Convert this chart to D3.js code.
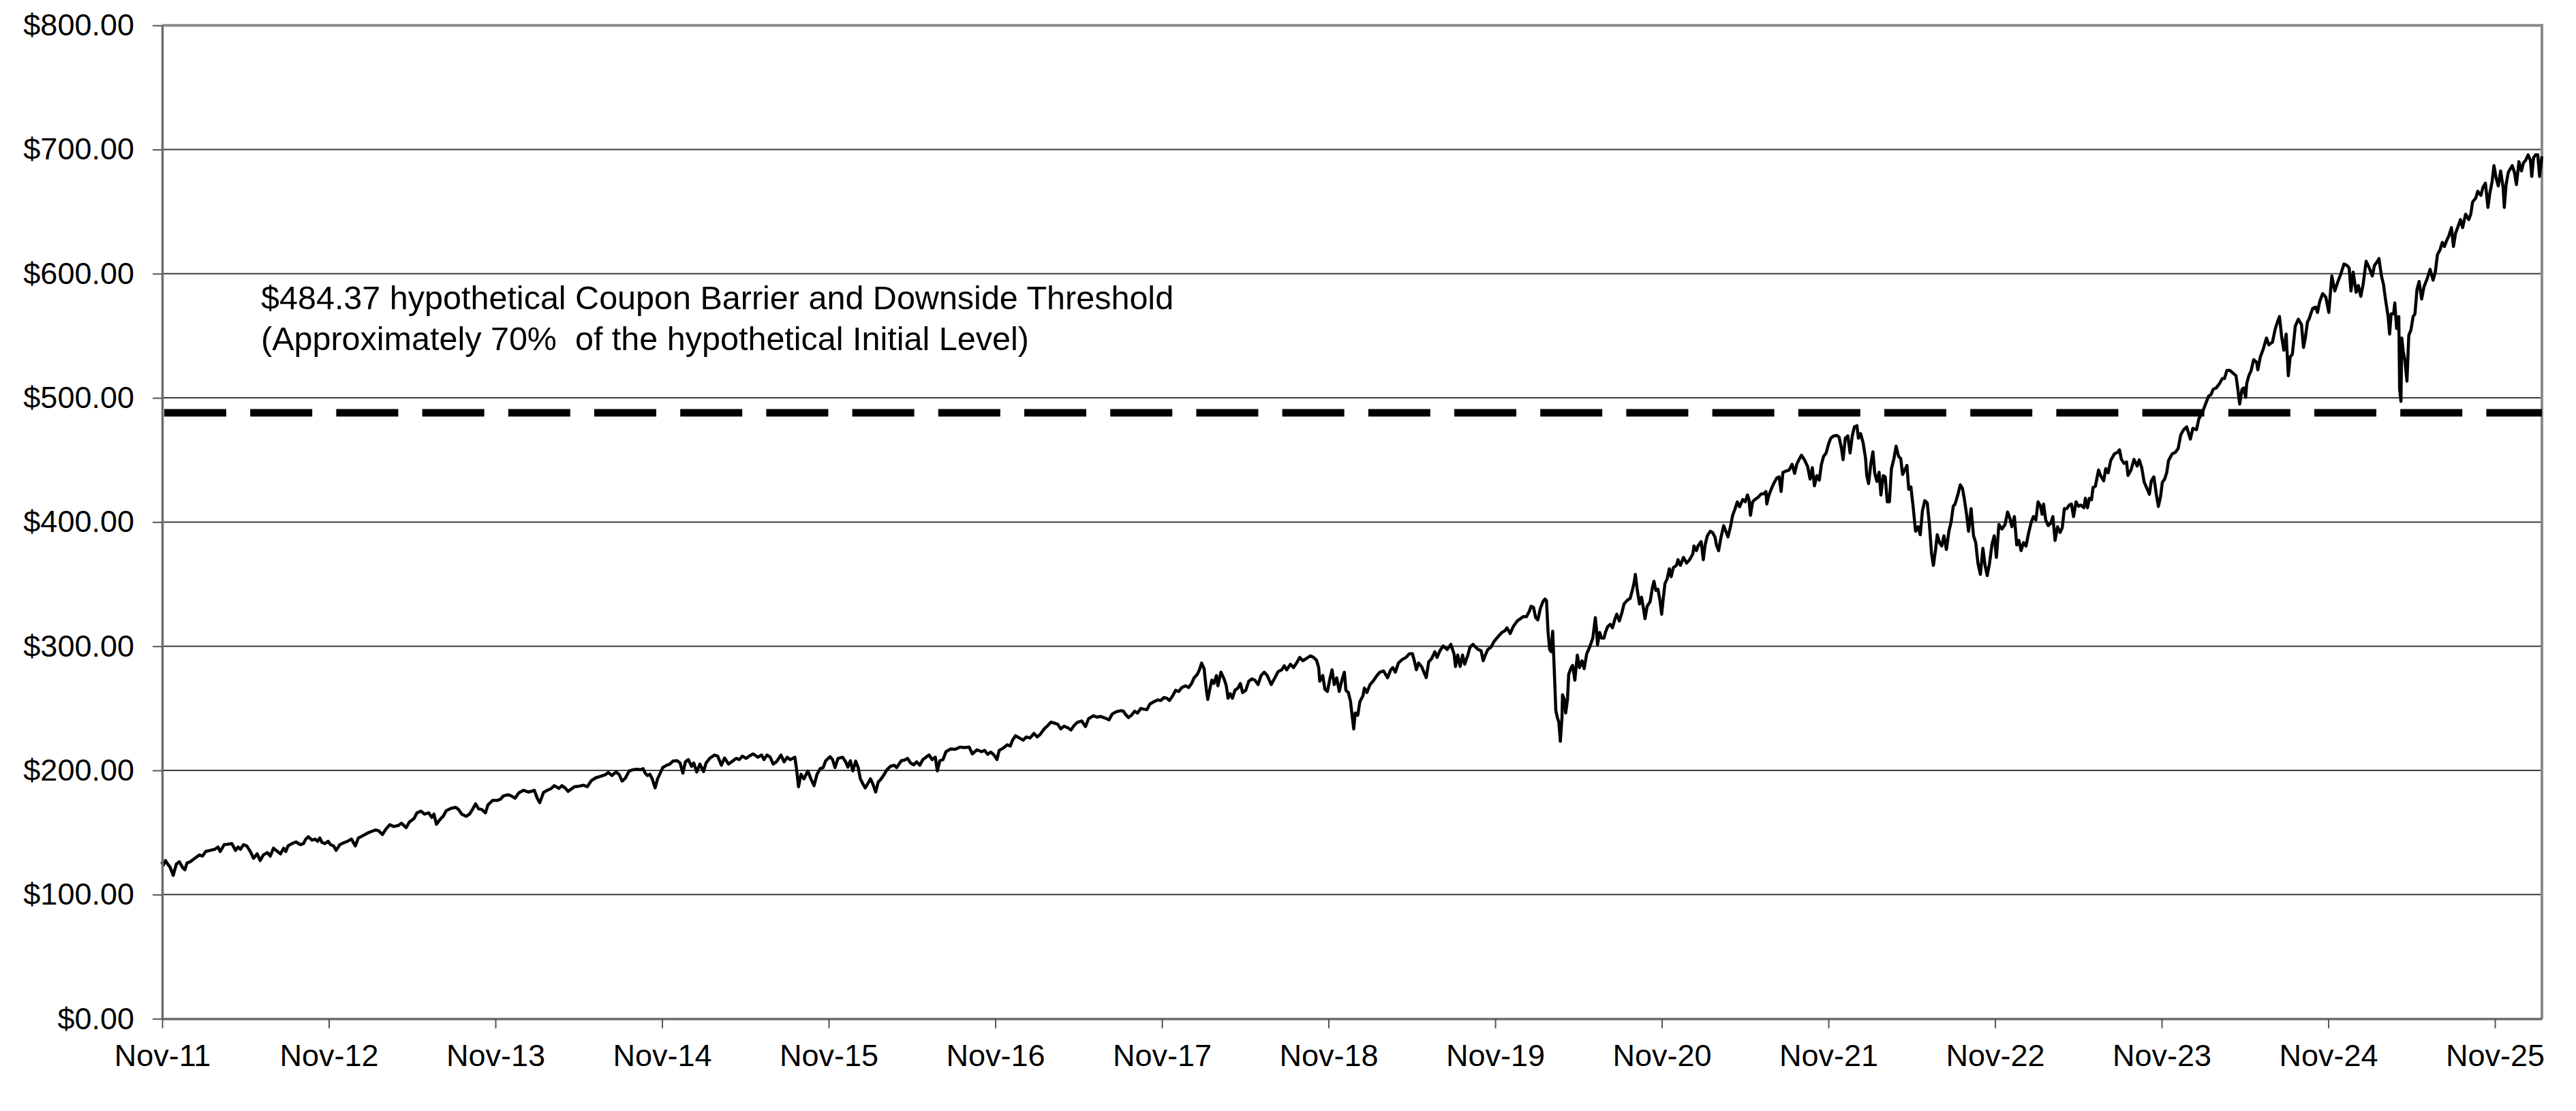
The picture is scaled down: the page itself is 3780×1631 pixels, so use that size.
<!DOCTYPE html>
<html><head><meta charset="utf-8">
<script src="https://cdn.jsdelivr.net/npm/d3@7"></script>
<style>
html,body{margin:0;padding:0;background:#fff;}
svg{display:block;background:#fff;}
text{font-family:"Liberation Sans",Arial,Helvetica,sans-serif;fill:#000;}
</style></head><body>
<svg id="chart" width="3780" height="1631"></svg>
<script>
// ---- data (dates as decimal years, values in $) ----
const dates = [
2011.870,2011.877,2011.890,2011.903,2011.918,2011.936,2011.955,2011.973,2011.992,2012.006,2012.019,2012.038,2012.066,2012.093,2012.112,2012.131,2012.158,2012.186,2012.205,2012.218,
2012.242,2012.260,2012.288,2012.310,2012.325,2012.340,2012.358,2012.377,2012.399,2012.418,2012.440,2012.458,2012.477,2012.501,2012.519,2012.538,2012.562,2012.580,2012.599,2012.612,
2012.625,2012.649,2012.673,2012.699,2012.718,2012.732,2012.747,2012.769,2012.788,2012.803,2012.816,2012.829,2012.847,2012.866,2012.880,2012.899,2012.914,2012.936,2012.964,2012.982,
2013.006,2013.029,2013.047,2013.075,2013.099,2013.121,2013.149,2013.168,2013.192,2013.214,2013.236,2013.260,2013.288,2013.306,2013.334,2013.353,2013.381,2013.399,2013.423,2013.445,
2013.469,2013.488,2013.501,2013.516,2013.538,2013.556,2013.575,2013.603,2013.631,2013.649,2013.668,2013.695,2013.714,2013.732,2013.751,2013.769,2013.788,2013.810,2013.825,2013.853,
2013.881,2013.899,2013.918,2013.945,2013.964,2013.988,2014.010,2014.038,2014.066,2014.084,2014.103,2014.121,2014.136,2014.158,2014.181,2014.205,2014.223,2014.251,2014.269,2014.288,
2014.306,2014.325,2014.343,2014.371,2014.399,2014.421,2014.445,2014.473,2014.495,2014.529,2014.547,2014.569,2014.593,2014.612,2014.630,2014.649,2014.673,2014.695,2014.723,2014.742,
2014.756,2014.769,2014.782,2014.797,2014.811,2014.828,2014.843,2014.856,2014.874,2014.898,2014.917,2014.935,2014.960,2014.978,2014.995,2015.010,2015.028,2015.047,2015.060,2015.078,
2015.097,2015.119,2015.134,2015.158,2015.185,2015.204,2015.226,2015.245,2015.269,2015.293,2015.315,2015.334,2015.352,2015.374,2015.393,2015.417,2015.445,2015.467,2015.482,2015.500,
2015.519,2015.537,2015.556,2015.584,2015.602,2015.621,2015.639,2015.667,2015.676,2015.689,2015.704,2015.722,2015.745,2015.763,2015.782,2015.800,2015.819,2015.837,2015.852,2015.878,
2015.893,2015.908,2015.926,2015.954,2015.972,2015.985,2016.000,2016.015,2016.032,2016.047,2016.060,2016.074,2016.089,2016.102,2016.121,2016.134,2016.152,2016.167,2016.185,2016.204,
2016.219,2016.241,2016.263,2016.278,2016.306,2016.324,2016.343,2016.361,2016.380,2016.398,2016.417,2016.435,2016.454,2016.472,2016.491,2016.510,2016.522,2016.537,2016.556,2016.574,
2016.602,2016.630,2016.658,2016.685,2016.713,2016.732,2016.760,2016.787,2016.806,2016.824,2016.843,2016.862,2016.880,2016.893,2016.917,2016.941,2016.960,2016.973,2016.991,2017.015,
2017.037,2017.056,2017.078,2017.102,2017.121,2017.139,2017.163,2017.185,2017.204,2017.226,2017.245,2017.263,2017.282,2017.306,2017.324,2017.343,2017.361,2017.389,2017.411,2017.430,
2017.460,2017.482,2017.500,2017.528,2017.552,2017.571,2017.593,2017.621,2017.639,
2017.650,2017.669,2017.687,2017.706,2017.724,2017.743,2017.761,2017.780,2017.798,2017.823,2017.845,2017.863,2017.882,2017.900,2017.915,2017.934,2017.952,2017.971,2017.989,2018.011,
2018.030,2018.048,2018.063,2018.082,2018.095,2018.108,2018.123,2018.137,2018.145,2018.156,2018.169,2018.182,2018.197,2018.206,2018.224,2018.243,2018.256,2018.267,2018.280,2018.293,
2018.308,2018.326,2018.341,2018.354,2018.373,2018.391,2018.410,2018.428,2018.447,2018.465,2018.484,2018.502,2018.526,2018.548,2018.567,2018.589,2018.604,2018.619,2018.641,2018.660,
2018.678,2018.697,2018.715,2018.737,2018.761,2018.780,2018.798,2018.811,2018.817,2018.835,2018.848,2018.863,2018.878,2018.891,2018.904,2018.919,2018.934,2018.952,2018.965,2018.974,
2018.989,2019.002,2019.011,2019.021,2019.030,2019.045,2019.058,2019.076,2019.085,2019.100,2019.119,2019.137,2019.160,2019.178,2019.200,2019.224,2019.243,2019.256,2019.271,2019.289,
2019.311,2019.335,2019.354,2019.373,2019.385,2019.397,2019.410,2019.428,2019.456,2019.471,2019.489,2019.508,2019.521,2019.539,2019.558,2019.582,2019.604,2019.623,2019.632,2019.645,
2019.660,2019.674,2019.687,2019.706,2019.719,2019.737,2019.752,2019.767,2019.785,2019.798,2019.811,2019.826,2019.845,2019.863,2019.886,2019.910,2019.928,2019.941,2019.960,2019.978,
2020.002,2020.021,2020.039,2020.058,2020.076,2020.085,2020.100,2020.113,2020.126,2020.141,2020.156,2020.169,2020.178,2020.187,2020.197,2020.206,2020.215,2020.224,2020.234,2020.243,
2020.252,2020.261,2020.271,2020.274,2020.285,2020.293,2020.304,2020.311,2020.326,2020.335,2020.348,2020.363,2020.376,2020.391,2020.404,2020.419,2020.437,2020.456,2020.471,2020.478,
2020.484,2020.497,2020.508,
2020.523,2020.532,2020.545,2020.560,2020.574,2020.587,2020.600,2020.615,2020.630,2020.643,2020.661,2020.680,2020.693,2020.704,2020.711,2020.723,2020.736,2020.748,2020.760,2020.769,
2020.782,2020.800,2020.813,2020.823,2020.834,2020.847,2020.860,2020.869,2020.878,2020.889,2020.902,2020.915,2020.926,2020.939,2020.958,2020.967,2020.982,2021.000,2021.019,2021.037,
2021.056,2021.063,2021.078,2021.087,2021.106,2021.119,2021.130,2021.143,2021.161,2021.174,2021.189,2021.198,2021.211,2021.223,2021.241,2021.254,2021.267,2021.282,2021.295,2021.310,
2021.323,2021.337,2021.356,2021.371,2021.384,2021.393,2021.402,2021.415,2021.430,2021.448,2021.467,2021.482,2021.495,2021.500,2021.513,2021.532,2021.545,2021.560,2021.574,2021.586,
2021.597,2021.615,2021.634,2021.652,2021.667,2021.680,2021.693,2021.708,2021.726,2021.745,2021.760,2021.773,2021.786,2021.800,2021.815,2021.828,2021.841,2021.856,2021.871,2021.884,
2021.902,2021.921,2021.934,2021.948,2021.958,2021.971,2021.986,2022.000,2022.013,2022.026,2022.041,2022.050,2022.063,2022.078,2022.093,2022.100,2022.111,2022.124,2022.137,2022.148,
2022.161,2022.174,2022.185,2022.199,2022.211,2022.223,2022.236,2022.248,2022.263,2022.276,2022.291,2022.304,2022.315,2022.328,2022.341,2022.352,2022.365,2022.378,2022.393,2022.408,
2022.421,2022.434,2022.448,2022.463,2022.476,2022.489,2022.500,2022.513,2022.523,2022.537,2022.550,2022.563,2022.578,2022.593,2022.606,2022.619,2022.630,2022.648,2022.661,2022.674,
2022.685,2022.698,2022.711,2022.726,2022.741,2022.754,2022.767,2022.782,2022.797,2022.810,2022.823,2022.837,2022.852,2022.865,2022.878,2022.893,2022.911,2022.930,2022.945,2022.958,
2022.971,2022.986,2023.000,2023.013,2023.026,2023.041,2023.056,2023.069,2023.087,2023.100,2023.115,2023.128,2023.143,2023.152,2023.161,2023.174,2023.189,2023.204,2023.217,2023.230,
2023.245,2023.260,2023.273,2023.286,2023.300,2023.315,2023.328,2023.341,2023.356,2023.371,
2023.385,2023.403,2023.412,2023.425,2023.436,2023.449,2023.458,2023.472,2023.491,2023.503,2023.522,2023.534,2023.549,2023.564,2023.586,2023.604,2023.617,2023.628,2023.644,2023.659,
2023.668,2023.686,2023.704,2023.723,2023.735,2023.750,2023.765,2023.783,2023.796,2023.808,2023.823,2023.838,2023.850,2023.863,2023.874,2023.887,2023.900,2023.911,2023.933,2023.951,
2023.969,2023.984,2024.002,2024.020,2024.042,2024.057,2024.079,2024.093,2024.115,2024.133,2024.152,2024.166,2024.179,2024.197,2024.216,2024.234,2024.247,2024.261,2024.279,2024.298,
2024.316,2024.325,2024.338,2024.352,2024.362,2024.374,2024.380,2024.393,2024.407,2024.422,2024.440,2024.447,2024.462,2024.480,2024.499,2024.513,2024.535,2024.550,2024.562,2024.577,
2024.590,2024.603,2024.617,2024.630,2024.641,2024.654,2024.672,2024.690,2024.709,2024.721,2024.732,2024.745,2024.754,2024.776,2024.794,2024.805,2024.818,2024.836,2024.855,2024.873,
2024.891,2024.909,2024.928,2024.946,2024.964,2024.982,2024.995,2025.006,2025.019,2025.037,2025.050,2025.065,2025.079,2025.097,2025.116,2025.134,2025.147,2025.165,2025.174,2025.189,
2025.201,2025.214,2025.229,2025.238,2025.247,2025.262,2025.269,2025.280,2025.293,2025.298,2025.306,2025.311,2025.320,2025.329,2025.342,2025.353,2025.366,2025.379,2025.390,2025.402,
2025.415,2025.430,2025.444,2025.463,2025.481,2025.499,2025.512,2025.525,2025.539,2025.554,2025.567,2025.579,2025.594,2025.609,2025.621,2025.634,2025.649,2025.663,2025.676,2025.694,
2025.713,2025.725,2025.736,2025.755,2025.767,2025.786,2025.798,2025.813,2025.828,2025.840,2025.853,2025.864,2025.877,2025.890,2025.904,2025.919,2025.926,2025.937,2025.950,2025.959,
2025.974,2025.987,2025.999,2026.014,2026.029,2026.041,2026.054,2026.069,2026.083,2026.091,2026.102,2026.114,2026.127,2026.138,2026.151
];
const values = [
125.5,123.7,127.4,124.6,121.9,115.5,124.6,126.4,121.9,120.0,125.5,126.4,129.2,131.9,131.0,134.7,135.6,136.5,138.3,134.7,
140.2,140.5,141.1,135.6,138.3,136.5,140.2,139.2,134.7,129.2,132.8,127.4,131.9,133.8,131.0,137.4,134.7,132.8,137.4,134.7,
139.2,141.1,142.4,140.2,141.1,144.7,146.6,143.8,144.7,142.9,145.6,142.0,141.1,142.9,140.2,139.2,135.6,140.2,142.0,142.9,
144.7,139.2,145.6,147.5,149.3,150.6,152.0,151.5,148.4,153.0,156.3,154.8,155.7,157.5,153.9,158.4,161.2,165.8,167.2,164.8,
165.8,162.1,164.8,156.6,160.6,163.0,167.6,169.4,170.3,168.5,164.8,163.0,164.8,168.5,173.1,169.1,168.5,165.8,172.2,175.8,
175.8,176.7,179.5,180.4,179.5,177.6,181.9,184.0,182.6,183.1,184.0,177.6,174.0,182.2,184.0,185.5,187.7,185.5,187.7,185.9,
183.1,185.0,186.8,187.3,188.1,186.8,191.7,194.1,195.0,196.5,198.3,195.9,198.7,196.8,191.4,193.6,199.6,200.5,200.9,200.5,
201.4,197.8,195.9,196.9,193.2,185.9,193.2,196.9,202.3,204.2,205.1,207.5,207.8,206.0,197.8,206.9,208.7,203.3,206.0,198.7,
205.1,199.1,206.0,210.0,212.4,211.5,204.2,210.0,205.1,207.5,209.7,208.7,211.5,209.7,211.5,213.3,210.6,212.4,208.7,212.4,
210.6,205.1,206.9,212.4,206.9,210.6,208.7,210.6,202.3,186.8,196.9,193.2,199.6,193.2,187.7,196.9,201.4,202.3,207.8,211.1,
208.7,202.3,209.7,210.6,206.9,202.7,207.8,199.6,207.5,202.3,193.2,189.5,185.9,188.6,193.2,189.5,182.6,190.5,193.2,196.9,
200.5,203.3,204.2,202.3,207.8,208.2,209.7,206.0,204.5,206.9,204.2,208.7,210.6,212.4,208.7,210.6,199.6,207.8,208.7,215.1,
217.3,217.0,218.8,218.4,218.8,213.3,216.6,215.1,216.1,213.0,214.8,212.4,208.7,216.1,217.9,220.6,219.7,224.3,227.9,226.1,
224.3,227.0,226.1,229.8,227.0,228.9,233.4,236.2,238.9,238.0,237.1,233.4,235.6,234.3,232.5,236.2,238.6,239.8,235.3,241.7,
244.0,242.9,243.5,242.2,240.7,245.3,247.1,248.1,247.7,
245.3,242.6,244.4,247.7,246.2,249.9,249.3,249.0,253.5,255.4,256.8,256.3,258.7,258.1,256.3,259.9,264.5,263.6,266.7,268.2,
266.7,270.0,274.6,277.3,281.0,286.5,281.9,264.5,257.2,264.5,272.7,270.0,276.4,268.2,279.1,273.7,268.2,258.1,261.8,258.1,
264.5,266.3,270.0,262.7,264.5,271.8,273.7,272.7,269.1,276.4,279.1,276.4,269.1,274.6,279.5,281.0,284.3,281.0,285.5,282.8,
286.5,291.0,288.3,290.1,292.3,291.0,288.7,282.8,271.8,276.4,265.4,263.6,273.7,281.0,269.1,274.6,263.6,273.7,279.1,264.5,
262.7,255.4,244.4,233.4,246.2,244.4,255.4,259.9,266.3,262.7,269.1,271.8,276.4,279.1,280.1,274.6,281.0,282.8,279.1,286.5,
289.2,291.0,293.8,294.1,288.3,281.0,286.5,283.7,274.6,287.4,290.1,295.6,291.0,296.5,300.2,297.4,301.5,293.8,283.7,292.9,
283.7,292.9,285.5,292.9,299.3,301.5,299.3,297.4,296.5,288.3,292.9,297.4,299.3,303.8,307.5,311.1,312.4,314.8,310.2,315.7,
320.3,322.1,323.9,323.9,328.5,332.2,331.3,323.0,321.2,330.3,335.8,338.0,336.7,312.1,297.4,295.6,312.1,282.8,248.1,242.6,
238.9,223.4,242.6,260.9,257.2,246.2,257.2,277.3,282.8,284.6,272.7,292.9,282.8,288.3,281.9,293.8,299.3,306.6,323.0,313.9,
301.1,311.1,306.6,
306.6,311.2,315.8,317.6,314.8,321.2,325.8,320.3,326.7,334.0,336.8,338.6,345.0,351.4,357.8,345.0,334.0,339.5,330.4,322.2,
332.2,335.9,346.8,352.3,345.0,345.9,335.9,325.8,337.7,350.5,354.2,362.4,356.0,363.3,365.1,369.7,365.1,371.5,367.0,369.7,
374.3,380.7,377.0,380.7,384.3,369.7,381.6,388.9,392.6,391.6,388.0,381.6,377.0,386.2,397.1,392.6,388.0,396.2,405.4,410.8,
416.3,412.3,418.2,416.3,421.8,418.2,405.4,416.3,418.2,420.0,422.7,422.7,424.6,414.5,421.8,428.2,431.9,435.5,436.4,424.6,
440.1,441.0,441.9,446.5,439.2,446.5,450.2,453.8,450.2,444.7,434.6,443.8,429.1,437.4,433.7,446.5,452.9,455.6,463.0,467.5,
469.4,469.7,468.4,459.3,450.2,467.5,469.4,455.6,469.4,476.7,477.6,467.5,471.2,463.9,451.1,437.4,431.0,446.5,456.6,439.2,
432.8,440.1,421.8,437.4,436.4,416.3,416.3,442.8,451.1,461.1,452.9,451.1,438.3,441.9,445.6,426.4,428.2,412.7,392.6,396.2,
389.8,409.0,417.2,415.4,398.0,374.3,365.1,377.9,389.8,383.4,380.7,388.9,377.9,392.6,399.9,412.7,414.5,422.7,430.0,427.3,
419.1,407.2,392.6,410.8,388.9,383.4,367.0,357.8,378.8,365.1,356.9,367.0,382.5,388.9,371.5,398.0,394.4,398.0,408.1,403.5,
396.2,404.4,381.6,385.2,377.0,383.4,380.7,389.8,399.9,404.4,401.7,416.3,412.7,406.3,414.5,401.7,397.1,399.0,404.4,385.2,
396.2,391.6,395.3,410.8,410.8,413.6,414.5,404.4,416.3,412.7,
413.7,411.5,419.1,411.5,419.1,418.0,427.8,428.9,441.9,437.5,433.2,443.0,439.7,449.5,454.9,456.0,458.1,450.5,447.3,448.4,
437.5,441.9,450.5,445.1,450.1,444.0,432.1,426.7,422.3,433.2,436.4,422.3,412.6,420.2,432.1,434.3,439.7,449.5,454.9,456.0,
459.2,470.1,474.4,476.6,466.8,475.5,474.4,483.1,488.5,495.0,501.5,502.6,506.9,508.0,511.3,515.6,515.6,522.1,522.1,520.0,
517.8,509.1,495.0,506.9,508.0,500.4,511.3,517.8,522.1,530.8,528.6,522.6,533.0,539.5,548.2,542.7,544.9,554.7,560.1,565.5,
549.2,538.4,551.4,517.8,533.0,535.1,557.9,563.3,559.0,540.6,548.2,561.2,563.3,572.0,573.1,568.8,577.4,584.0,581.1,568.8,
598.1,586.1,593.7,600.2,607.8,606.7,604.6,586.1,601.3,585.0,590.5,581.8,591.5,610.0,604.6,598.1,606.7,610.0,612.2,598.1,
591.5,578.5,565.5,551.4,567.7,567.7,576.4,555.8,565.5,506.9,497.2,548.2,537.3,530.8,513.5,550.3,554.7,565.5,567.7,587.2,
593.7,579.6,589.4,595.9,603.5,594.8,601.3,615.4,618.7,625.2,621.9,626.3,630.6,637.1,621.9,632.8,638.2,643.6,637.1,647.9,
643.6,647.9,657.7,661.0,666.4,663.1,669.6,672.9,653.4,665.3,674.0,687.0,677.2,670.7,682.7,669.6,653.4,671.8,681.6,683.7,
687.0,681.6,671.8,690.2,682.7,689.2,691.3,695.7,691.3,678.3,693.5,695.7,695.7,678.3,693.5
];
const xTickDates = [2011.87,2012.87,2013.87,2014.87,2015.87,2016.87,2017.87,2018.87,2019.87,2020.87,2021.87,2022.87,2023.87,2024.87,2025.87];
const xTickLabels = ["Nov-11","Nov-12","Nov-13","Nov-14","Nov-15","Nov-16","Nov-17","Nov-18","Nov-19","Nov-20","Nov-21","Nov-22","Nov-23","Nov-24","Nov-25"];
const yTickValues = [0,100,200,300,400,500,600,700,800];
const xDomain = [2011.87, 2026.152];
const barrierLevel = [488];
const noteLines = ["$484.37 hypothetical Coupon Barrier and Downside Threshold",
                   "(Approximately 70%  of the hypothetical Initial Level)"];

// ---- layout ----
const svg = d3.select("#chart");
const L = 238, R = 3730, T = 37.2, B = 1495.6;
const x = d3.scaleLinear().domain(xDomain).range([L, R]);
const y = d3.scaleLinear().domain([0, 800]).range([B, T]);

// gridlines
svg.append("g").selectAll("line")
  .data(yTickValues.filter(v => v > 0 && v < 800))
  .join("line")
  .attr("x1", L).attr("x2", R)
  .attr("y1", d => y(d)).attr("y2", d => y(d))
  .attr("stroke", "#3c3c3c").attr("stroke-width", 2);

// top & right frame
svg.append("line").attr("x1", L).attr("x2", R + 2).attr("y1", y(800)).attr("y2", y(800))
  .attr("stroke", "#8c8c8c").attr("stroke-width", 4);
svg.append("line").attr("x1", R).attr("x2", R).attr("y1", y(800) - 2).attr("y2", B)
  .attr("stroke", "#8c8c8c").attr("stroke-width", 4);

// barrier dashed line
svg.append("path")
  .datum(xDomain)
  .attr("d", d3.line().x(d => x(d)).y(() => y(barrierLevel[0])))
  .attr("fill", "none").attr("stroke", "#000").attr("stroke-width", 11)
  .attr("stroke-dasharray", "91 35.2").attr("stroke-dashoffset", 123.2);

// data line
const idx = d3.range(dates.length);
svg.append("path")
  .datum(idx)
  .attr("d", d3.line().x(i => x(dates[i])).y(i => y(values[i])))
  .attr("fill", "none").attr("stroke", "#000").attr("stroke-width", 4.5)
  .attr("stroke-linejoin", "round").attr("stroke-linecap", "round");

// y axis
const gy = svg.append("g").attr("transform", `translate(${L},0)`)
  .call(d3.axisLeft(y).tickValues(yTickValues).tickFormat(d3.format("$.2f"))
        .tickSize(14).tickSizeOuter(0).tickPadding(27));
gy.select(".domain").attr("stroke", "#6b6b6b").attr("stroke-width", 3.5);
gy.selectAll(".tick line").attr("stroke", "#555").attr("stroke-width", 2);
gy.selectAll("text").attr("font-size", 45).attr("font-family", "Liberation Sans, Arial, sans-serif").attr("fill", "#000");

// x axis
const gx = svg.append("g").attr("transform", `translate(0,${B})`)
  .call(d3.axisBottom(x).tickValues(xTickDates).tickFormat((d, i) => xTickLabels[i])
        .tickSize(14).tickSizeOuter(0).tickPadding(23));
gx.select(".domain").attr("stroke", "#6b6b6b").attr("stroke-width", 3.5);
gx.selectAll(".tick line").attr("stroke", "#555").attr("stroke-width", 2);
gx.selectAll("text").attr("font-size", 45).attr("font-family", "Liberation Sans, Arial, sans-serif").attr("fill", "#000");

// annotation
svg.append("g").selectAll("text").data(noteLines).join("text")
  .attr("x", 383).attr("y", (d, i) => 454 + i * 60)
  .attr("font-size", 48.5).style("white-space", "pre")
  .text(d => d);
</script>
</body></html>
